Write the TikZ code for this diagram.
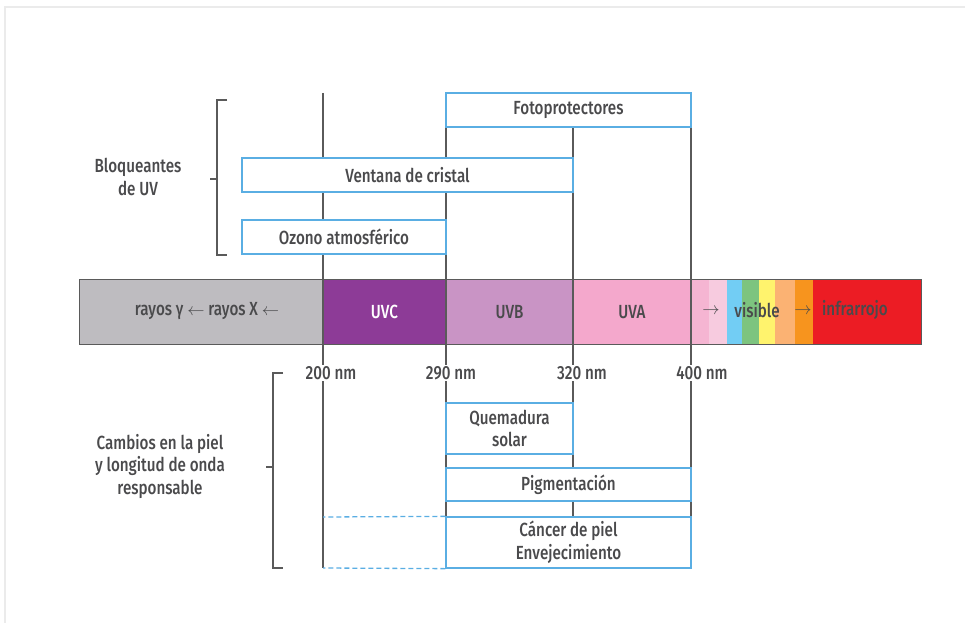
\documentclass[tikz,border=0pt]{standalone}
\usepackage{fontspec}
\setmainfont{Fira Sans}[UprightFont={* Medium}, FakeStretch=0.8]
\usepackage{xcolor}
\usepackage{tikz}

\definecolor{ink}{HTML}{4A4A4C}
\definecolor{rulegray}{HTML}{5A5A5A}
\definecolor{boxblue}{HTML}{5AAEE3}
\definecolor{raygray}{HTML}{BEBCC0}
\definecolor{uvc}{HTML}{8D3B97}
\definecolor{uvb}{HTML}{C994C5}
\definecolor{uva}{HTML}{F4A8CC}
\definecolor{pinka}{HTML}{F5B5D2}
\definecolor{pinkb}{HTML}{F7CBDF}
\definecolor{vblue}{HTML}{72CDF4}
\definecolor{vgreen}{HTML}{7DC47F}
\definecolor{vyellow}{HTML}{FFF36D}
\definecolor{vlorange}{HTML}{FBB273}
\definecolor{vorange}{HTML}{F7941E}
\definecolor{vred}{HTML}{EC1C24}

\tikzset{
  band/.style={minimum height=64, inner sep=0, text=ink},
  uvbox/.style={draw=boxblue, fill=white, line width=1.3, inner sep=0, text=ink, align=center},
  rule/.style={draw=rulegray, line width=1.3},
  nmlabel/.style={fill=white, inner sep=1.5, text=ink},
  sidelabel/.style={text=ink, align=center},
}

\begin{document}
\begin{tikzpicture}[x=1pt, y=-1pt, every node/.style={font=\fontsize{19}{22.5}\selectfont}]
\useasboundingbox (0,0) rectangle (965,623);
% page edge
\draw[black!8, line width=2] (5,623) -- (5,7) -- (965,7);

% spectrum
\node (rays) at (201.5, 312) [band, fill=raygray, minimum width=243] {};
\node (uvc) at (384.5, 312) [band, fill=uvc, minimum width=123, text=white] {UVC};
\node (uvb) at (509.5, 312) [band, fill=uvb, minimum width=127] {UVB};
\node (uva) at (632, 312) [band, fill=uva, minimum width=118] {UVA};
\node (s1) at (700, 312) [band, fill=pinka, minimum width=18] {};
\node (s2) at (718, 312) [band, fill=pinkb, minimum width=18] {};
\node (s3) at (734.5, 312) [band, fill=vblue, minimum width=15] {};
\node (s4) at (750.5, 312) [band, fill=vgreen, minimum width=17] {};
\node (s5) at (767, 312) [band, fill=vyellow, minimum width=16] {};
\node (s6) at (785, 312) [band, fill=vlorange, minimum width=20] {};
\node (s7) at (804, 312) [band, fill=vorange, minimum width=18] {};
\node (s8) at (867, 312) [band, fill=vred, minimum width=108] {};
\draw[rule, line width=1] (rays.north west) rectangle (s8.south east);

\node (raytext) at (207, 311) [text=ink] {rayos γ $\leftarrow$ rayos X $\leftarrow$};
\node (arrvis) at (711, 311) [text=ink] {$\rightarrow$};
\node (vis) at (757, 310) [text=ink] {visible};
\node (arrir) at (803, 311) [text=ink] {$\rightarrow$};
\node (ir) at (855, 310) [text=ink] {infrarrojo};

% wavelength rules
\coordinate (t200) at (323, 93);
\coordinate (b200) at (323, 568);
\coordinate (t290) at (446, 93);
\coordinate (b290) at (446, 568);
\coordinate (t320) at (573, 127);
\coordinate (b320) at (573, 517);
\coordinate (t400) at (691, 127);
\coordinate (b400) at (691, 517);
\draw[rule] (t200) -- (b200);
\draw[rule] (t290) -- (b290);
\draw[rule] (t320) -- (b320);
\draw[rule] (t400) -- (b400);

\node (nm200) at (331, 373) [nmlabel] {200 nm};
\node (nm290) at (451, 373) [nmlabel] {290 nm};
\node (nm320) at (582, 373) [nmlabel] {320 nm};
\node (nm400) at (702, 373) [nmlabel] {400 nm};

% blockers
\node (foto) at (568.5, 110) [uvbox, minimum width=245, minimum height=34] {Fotoprotectores};
\node (ventana) at (407.5, 175) [uvbox, minimum width=331, minimum height=34] {Ventana de cristal};
\node (ozono) at (344, 237) [uvbox, minimum width=204, minimum height=34] {Ozono atmosférico};

% skin effects
\node (quem) at (509.5, 428.5) [uvbox, minimum width=127, minimum height=51] {Quemadura\\solar};
\node (pigm) at (568.5, 484.5) [uvbox, minimum width=245, minimum height=33] {Pigmentación};
\node (cancer) at (568.5, 542.5) [uvbox, minimum width=245, minimum height=51] {Cáncer de piel\\Envejecimiento};
\coordinate (dtop) at (323, 517);
\coordinate (dbot) at (323, 568);
\draw[boxblue, line width=1.3, dash pattern=on 5pt off 3pt] (cancer.north west) -- (dtop);
\draw[boxblue, line width=1.3, dash pattern=on 5pt off 3pt] (cancer.south west) -- (dbot);

% brackets
\node (bloq) at (138, 177) [sidelabel] {Bloqueantes\\de UV};
\draw[rule] (227, 100) -- (217, 100) -- (217, 255) -- (227, 255);
\draw[rule] (217, 179) -- (210, 179);
\node (cambios) at (160, 466) [sidelabel] {Cambios en la piel\\y longitud de onda\\responsable};
\draw[rule] (283, 373) -- (273, 373) -- (273, 568) -- (283, 568);
\draw[rule] (273, 467) -- (266, 467);
\end{tikzpicture}
\end{document}
